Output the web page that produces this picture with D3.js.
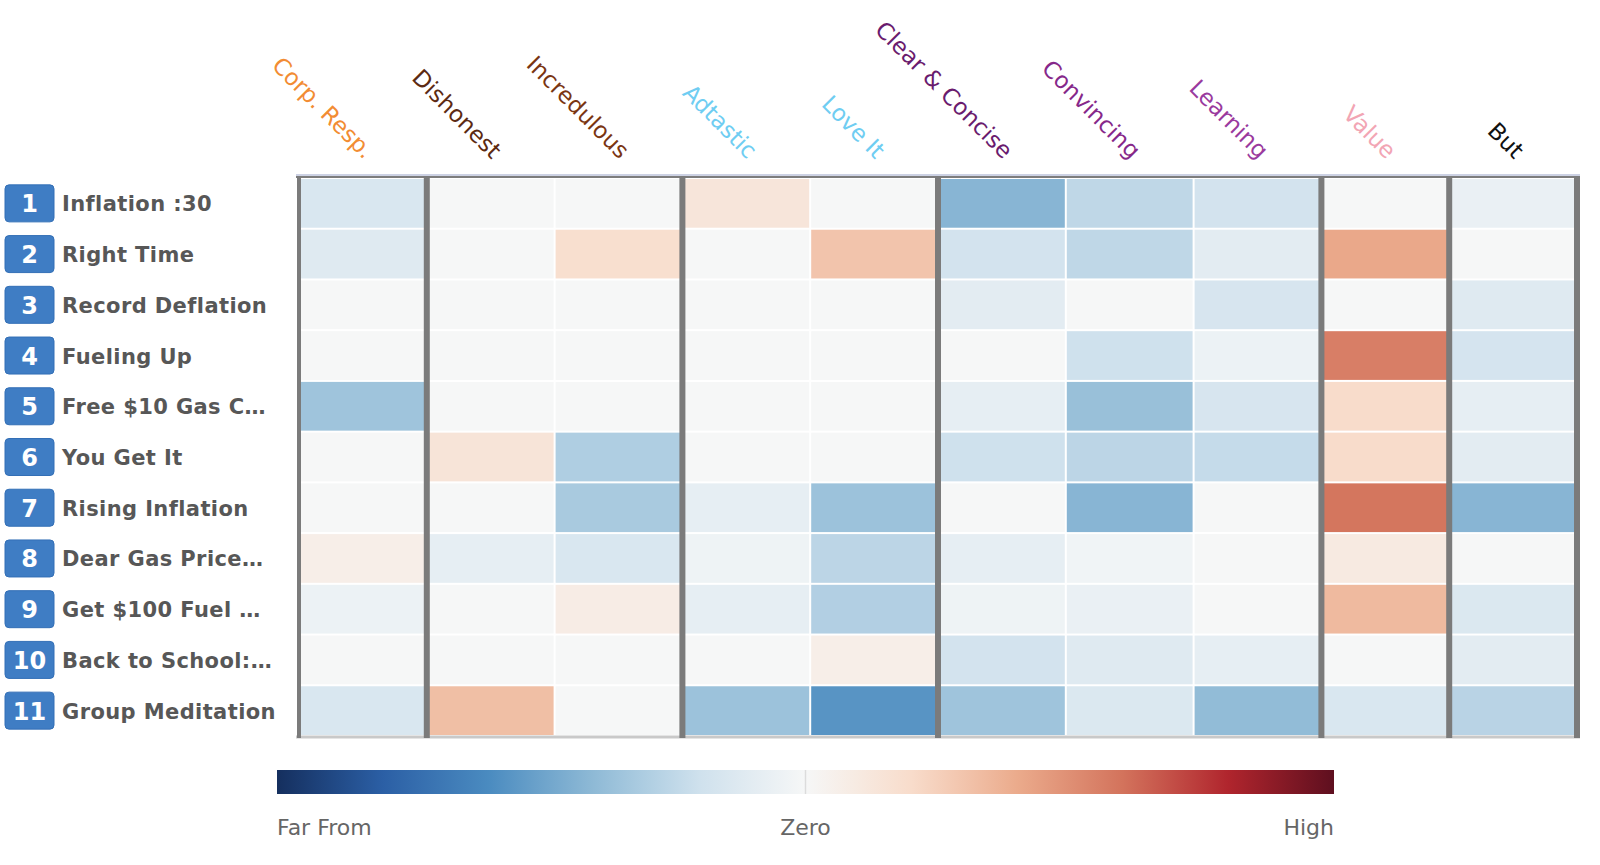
<!DOCTYPE html>
<html lang="en">
<head>
<meta charset="utf-8">
<title>Heatmap</title>
<script type="text/javascript" src="https://d3js.org/d3.v7.min.js"></script>
<style>
body { margin: 0; background: #fff; }
.rowlabel { font-family: "DejaVu Sans", sans-serif; font-weight: bold; font-size: 21px; fill: #575757; letter-spacing: 0.4px; }
.badge-num { font-family: "DejaVu Sans", sans-serif; font-weight: bold; font-size: 24px; fill: #fff; }
.colhead { font-family: "DejaVu Sans", sans-serif; font-size: 23px; }
.legend-label { font-family: "DejaVu Sans", sans-serif; font-size: 22px; fill: #666; }
</style>
</head>
<body>
<div id="chart"></div>
<script type="text/javascript">

// columns (attributes) and the group each one belongs to
var columns = ["Corp. Resp.", "Dishonest", "Incredulous", "Adtastic", "Love It",
               "Clear & Concise", "Convincing", "Learning", "Value", "But"];
var columnGroups = [0, 1, 1, 2, 2, 3, 3, 3, 4, 5];
var columnColors = ["#f28c33", "#5c2a12", "#7a3512", "#6fcdf2", "#6fcdf2",
                    "#6a1b6e", "#86288a", "#9a3a9e", "#f2a5b4", "#111"];

// rows (ads)
var rowNumbers = [1, 2, 3, 4, 5, 6, 7, 8, 9, 10, 11];
var rowNames = ["Inflation :30", "Right Time", "Record Deflation", "Fueling Up",
                "Free $10 Gas C\u2026", "You Get It", "Rising Inflation", "Dear Gas Price\u2026",
                "Get $100 Fuel \u2026", "Back to School:\u2026", "Group Meditation"];

// scores, one array per row, -1 (far from) .. 0 (zero) .. 1 (high)
var row1  = [-0.15, 0,     0,     0.13,  0,     -0.42, -0.25, -0.18, 0,     -0.06];
var row2  = [-0.12, 0,     0.18,  0,     0.30,  -0.18, -0.25, -0.10, 0.41,  0];
var row3  = [0,     0,     0,     0,     0,     -0.10, 0,     -0.16, 0,     -0.12];
var row4  = [0,     0,     0,     0,     0,     0,     -0.20, -0.05, 0.56,  -0.17];
var row5  = [-0.35, 0,     0,     0,     0,     -0.08, -0.37, -0.16, 0.20,  -0.08];
var row6  = [0,     0.14,  -0.30, 0,     0,     -0.20, -0.26, -0.23, 0.20,  -0.10];
var row7  = [0,     0,     -0.32, -0.08, -0.36, 0,     -0.42, 0,     0.59,  -0.42];
var row8  = [0.07,  -0.08, -0.15, -0.04, -0.26, -0.08, -0.03, 0,     0.10,  0];
var row9  = [-0.05, 0,     0.08,  -0.08, -0.29, -0.04, -0.06, 0,     0.34,  -0.14];
var row10 = [0,     0,     0,     0,     0.07,  -0.18, -0.12, -0.08, 0,     -0.10];
var row11 = [-0.15, 0.32,  0,     -0.36, -0.56, -0.35, -0.14, -0.39, -0.15, -0.27];
var scores = [row1, row2, row3, row4, row5, row6, row7, row8, row9, row10, row11];

var legendLabels = ["Far From", "Zero", "High"];

var w = 1600, h = 865;
var svg = d3.select("#chart").append("svg")
  .attr("width", w)
  .attr("height", h);

var gLeft = 299, gRight = 1577, gTop = 178, gBottom = 736;

var x = d3.scaleBand().domain(d3.range(columns.length)).range([gLeft, gRight]);
var y = d3.scaleBand().domain(d3.range(rowNames.length)).range([gTop, gBottom]);

// blue for negative, red for positive; neutral centre is a cool light grey
var ramp = d3.piecewise(d3.interpolateRgb, [
  "#152f5e", "#2b5fa5", "#4a8bc0", "#8fbad6", "#cfe1ed", "#f6f7f7",
  "#f8dccb", "#ebab8c", "#d3735c", "#b0252d", "#5e0f1f"]);
var color = d3.scaleDiverging(ramp).domain([-1, 0, 1]);

// flatten into cells
var cells = [];
scores.forEach(function(r, i) {
  r.forEach(function(v, j) { cells.push({row: i, col: j, value: v}); });
});

svg.append("g").selectAll("rect")
  .data(cells)
  .enter()
  .append("rect")
  .attr("x", function(d) { return x(d.col) + 1; })
  .attr("y", function(d) { return y(d.row) + 1; })
  .attr("width", x.bandwidth() - 2)
  .attr("height", y.bandwidth() - 2)
  .attr("fill", function(d) { return color(d.value); });

// frame: top, bottom
svg.append("line").attr("x1", gLeft - 3).attr("x2", gRight + 3)
  .attr("y1", gTop - 3).attr("y2", gTop - 3)
  .attr("stroke", "#cdd2e4").attr("stroke-width", 2);
svg.append("line").attr("x1", gLeft - 3).attr("x2", gRight + 3)
  .attr("y1", gTop - 1).attr("y2", gTop - 1)
  .attr("stroke", "#7d7d7d").attr("stroke-width", 2);
svg.append("line").attr("x1", gLeft - 3).attr("x2", gRight + 3)
  .attr("y1", gBottom + 1).attr("y2", gBottom + 1)
  .attr("stroke", "#c9c9c9").attr("stroke-width", 3);

// group separators (at group starts, plus right edge)
var sepX = [];
columnGroups.forEach(function(g, j) {
  if (j === 0 || g !== columnGroups[j - 1]) sepX.push(x(j));
});
sepX.push(gRight);
svg.append("g").selectAll("line")
  .data(sepX)
  .enter()
  .append("line")
  .attr("x1", function(d) { return d; })
  .attr("x2", function(d) { return d; })
  .attr("y1", gTop - 2)
  .attr("y2", gBottom + 2)
  .attr("stroke", "#7b7b7b")
  .attr("stroke-width", function(d, i) { return i === 0 ? 4 : 6; });

// column headers
svg.append("g").selectAll("text")
  .data(columns)
  .enter()
  .append("text")
  .attr("class", "colhead")
  .attr("text-anchor", "end")
  .attr("fill", function(d, i) { return columnColors[i]; })
  .attr("transform", function(d, i) {
    return "translate(" + (x(i) + x.bandwidth() / 2 + 1) + "," + 160 + ") rotate(45)";
  })
  .text(function(d) { return d; });

// row labels
var rl = svg.append("g").selectAll("g")
  .data(rowNames)
  .enter()
  .append("g")
  .attr("transform", function(d, i) { return "translate(0," + (y(i) + y.bandwidth() / 2) + ")"; });

rl.append("rect")
  .attr("x", 5).attr("y", -18.5)
  .attr("width", 49).attr("height", 37)
  .attr("rx", 4)
  .attr("fill", "#3f7dc4")
  .attr("stroke", "#336fb6");

rl.append("text")
  .attr("class", "badge-num")
  .attr("x", 29.5).attr("y", 1)
  .attr("text-anchor", "middle")
  .attr("dominant-baseline", "central")
  .text(function(d, i) { return rowNumbers[i]; });

rl.append("text")
  .attr("class", "rowlabel")
  .attr("x", 62).attr("y", 1)
  .attr("dominant-baseline", "central")
  .text(function(d) { return d; });

// legend
var lx0 = 277, lx1 = 1334, ly = 770, lh = 24;
var defs = svg.append("defs");
var grad = defs.append("linearGradient").attr("id", "legendGrad");
d3.range(0, 1.0001, 0.05).forEach(function(t) {
  grad.append("stop")
    .attr("offset", (t * 100) + "%")
    .attr("stop-color", color(-1 + 2 * t));
});
svg.append("rect")
  .attr("x", lx0).attr("y", ly)
  .attr("width", lx1 - lx0).attr("height", lh)
  .attr("fill", "url(#legendGrad)");
var lscale = d3.scaleLinear().domain([-1, 1]).range([lx0, lx1]);
svg.append("line")
  .attr("x1", lscale(0)).attr("x2", lscale(0))
  .attr("y1", ly).attr("y2", ly + lh)
  .attr("stroke", "#dcdcdc").attr("stroke-width", 1.5);

svg.append("g").selectAll("text")
  .data(legendLabels)
  .enter()
  .append("text")
  .attr("class", "legend-label")
  .attr("x", function(d, i) { return lscale(-1 + i); })
  .attr("y", 835)
  .attr("text-anchor", function(d, i) { return ["start", "middle", "end"][i]; })
  .text(function(d) { return d; });

</script>
</body>
</html>
